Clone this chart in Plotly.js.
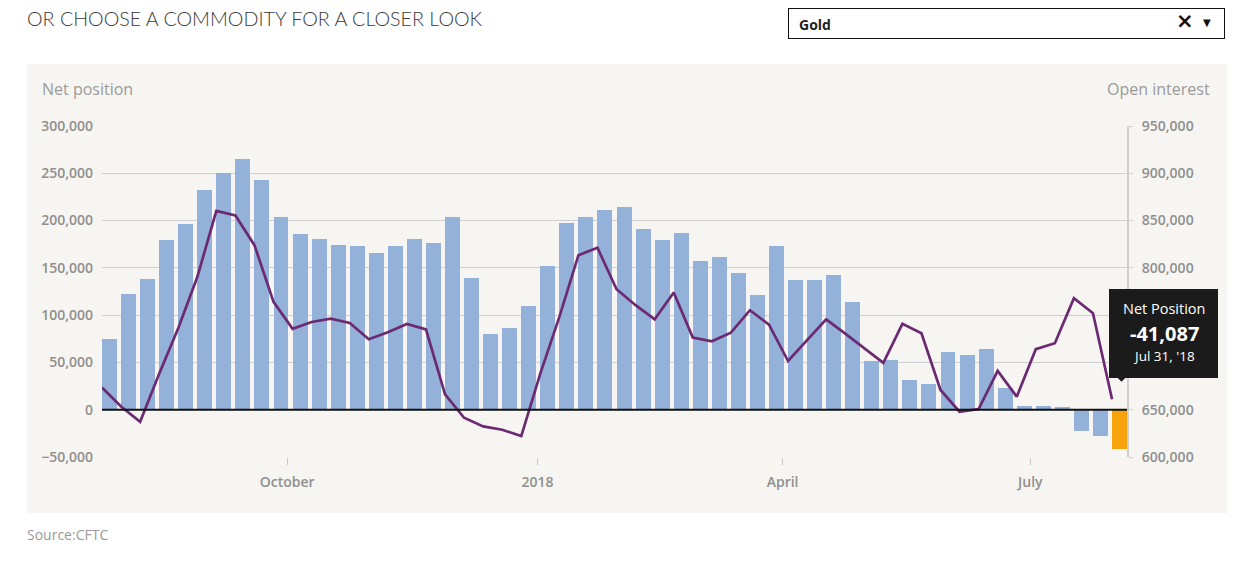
<!DOCTYPE html>
<html>
<head>
<meta charset="utf-8">
<script src="https://cdn.plot.ly/plotly-3.0.1.min.js"></script>
<style>
  html, body { margin: 0; padding: 0; background: #ffffff; width: 1243px; height: 562px; overflow: hidden; }
  #header { position: absolute; left: 27px; top: 7px; font-family: Lato, "Open Sans", sans-serif; font-weight: 300; font-size: 19.7px; color: #3a3a3a; }
  #dropdown { position: absolute; left: 788px; top: 8px; width: 437px; height: 31px; border: 1px solid #111; background: #fff; box-sizing: border-box; font-family: "Open Sans", sans-serif; }
  #dropdown .val { position: absolute; left: 10px; top: 6px; font-size: 14px; font-weight: 700; color: #222; }
  #dropdown .clr { position: absolute; left: 387px; top: 0px; font-size: 21px; font-weight: 700; color: #111; font-family: "DejaVu Sans", sans-serif; }
  #dropdown .arr { position: absolute; left: 414px; top: 8px; font-size: 10px; color: #111; font-family: "DejaVu Sans", sans-serif; }
  #chart { position: absolute; left: 27px; top: 64px; width: 1200px; height: 449px; }
  #source { position: absolute; left: 27px; top: 525px; font-family: "Open Sans", sans-serif; font-size: 14px; color: #9a9a9a; }
</style>
</head>
<body>
<div id="header">OR CHOOSE A COMMODITY FOR A CLOSER LOOK</div>
<div id="dropdown"><span class="val">Gold</span><span class="clr">×</span><span class="arr">▼</span></div>
<div id="chart"></div>
<div id="source">Source:CFTC</div>
<script>
// Weekly report dates (Tuesdays)
var dates = [
  "2017-07-25","2017-08-01","2017-08-08","2017-08-15","2017-08-22","2017-08-29",
  "2017-09-05","2017-09-12","2017-09-19","2017-09-26","2017-10-03","2017-10-10",
  "2017-10-17","2017-10-24","2017-10-31","2017-11-07","2017-11-14","2017-11-21",
  "2017-11-28","2017-12-05","2017-12-12","2017-12-19","2017-12-26","2018-01-02",
  "2018-01-09","2018-01-16","2018-01-23","2018-01-30","2018-02-06","2018-02-13",
  "2018-02-20","2018-02-27","2018-03-06","2018-03-13","2018-03-20","2018-03-27",
  "2018-04-03","2018-04-10","2018-04-17","2018-04-24","2018-05-01","2018-05-08",
  "2018-05-15","2018-05-22","2018-05-29","2018-06-05","2018-06-12","2018-06-19",
  "2018-06-26","2018-07-03","2018-07-10","2018-07-17","2018-07-24","2018-07-31"
];

// Net position (bars, left axis)
var netPosition = [
  74500, 122500, 138300, 179600, 196200, 231900,
  249900, 265000, 242400, 204300, 185300, 180300,
  174700, 172900, 165900, 173300, 180700, 176800,
  204000, 139700, 80100, 86100, 109400, 152100,
  197600, 203600, 211700, 214200, 190900, 179300,
  186700, 157000, 161300, 145000, 121000, 172600,
  137300, 137600, 142900, 113600, 51900, 52200,
  31100, 27200, 61100, 57600, 64300, 23300,
  3900, 3900, 2800, -22600, -27600, -41087
];

// Open interest (line, right axis)
var openInterest = [
  673400, 653400, 637300, 688000, 736100, 790300,
  860300, 855400, 824000, 764100, 735600, 742800,
  746300, 741800, 724500, 731900, 740700, 735000,
  666200, 641500, 632400, 628800, 622100, 688100,
  748100, 813400, 821200, 777400, 760500, 745600,
  773900, 726200, 722300, 731500, 755200, 740000,
  701500, 723400, 745600, 730500, 715200, 699600,
  740800, 730900, 670900, 647900, 650700, 691000,
  663800, 714000, 720300, 768000, 752100, 661000
];

// X tick positions and labels
var xTickVals = ["2017-10-01", "2018-01-01", "2018-04-01", "2018-07-01"];
var xTickText = ["October", "2018", "April", "July"];
// Right-axis labels visible in the reference (700,000 and 750,000 sit under the tooltip)
var rightTickVals = [600000, 650000, 800000, 850000, 900000, 950000];

var DAY = 86400000;
var barColor = "#94b1da";
var hiColor = "#f7a30b";
var tipColor = "#1b1b1b";
var colors = netPosition.map(function (v, i) { return i === netPosition.length - 1 ? hiColor : barColor; });

var tickFont = { family: "Open Sans, sans-serif", size: 14, color: "#8f8f8f", weight: 600 };

var barTrace = {
  type: "bar",
  x: dates,
  y: netPosition,
  marker: { color: colors, line: { width: 0 } },
  offset: 0,
  width: 5.5 * DAY,
  name: "Net position",
  hoverinfo: "skip",
  yaxis: "y"
};

var lineTrace = {
  type: "scatter",
  mode: "lines",
  x: dates,
  y: openInterest,
  line: { color: "#6b2a72", width: 2.7 },
  name: "Open interest",
  hoverinfo: "skip",
  yaxis: "y2"
};

var lastIdx = dates.length - 1;
var months = ["Jan","Feb","Mar","Apr","May","Jun","Jul","Aug","Sep","Oct","Nov","Dec"];
var lp = dates[lastIdx].split("-");
var lastLabel = months[parseInt(lp[1], 10) - 1] + " " + parseInt(lp[2], 10) + ", '" + lp[0].slice(2);
var lastVal = netPosition[lastIdx].toLocaleString("en-US");

function tipText(txt, size, dy, bold) {
  return {
    xref: "x", yref: "y", x: dates[lastIdx], y: 0,
    xanchor: "center", yanchor: "middle",
    xshift: 52, yshift: dy,
    text: bold ? "<b>" + txt + "</b>" : txt,
    showarrow: false,
    borderpad: 0,
    font: { family: "Open Sans, sans-serif", size: size, color: "#ffffff" }
  };
}

var layout = {
  width: 1200,
  height: 449,
  margin: { l: 75, r: 100, t: 62, b: 56 },
  paper_bgcolor: "#f6f5f1",
  plot_bgcolor: "#f6f5f1",
  showlegend: false,
  bargap: 0,
  xaxis: {
    type: "date",
    range: ["2017-07-25", "2018-08-05 12:00"],
    tickmode: "array",
    tickvals: xTickVals,
    ticktext: xTickText,
    ticks: "outside",
    ticklen: 7,
    tickwidth: 1,
    tickcolor: "#c8c8c8",
    showgrid: false,
    showline: false,
    zeroline: false,
    tickfont: tickFont,
    ticklabelstandoff: 5
  },
  yaxis: {
    range: [-50000, 300000],
    dtick: 50000,
    tick0: 0,
    tickformat: ",",
    showgrid: true,
    gridcolor: "#cfcfcf",
    gridwidth: 1,
    zeroline: false,
    showline: false,
    ticks: "",
    tickfont: tickFont,
    ticklabelstandoff: 8
  },
  yaxis2: {
    overlaying: "y",
    side: "right",
    range: [600000, 950000],
    tickmode: "array",
    tickvals: rightTickVals,
    tickformat: ",",
    showgrid: false,
    zeroline: false,
    showline: true,
    linecolor: "#cfcfcf",
    linewidth: 2,
    ticks: "outside",
    ticklen: 4,
    tickcolor: "#cfcfcf",
    tickfont: tickFont,
    ticklabelstandoff: 6
  },
  shapes: [
    {
      type: "line", layer: "above",
      xref: "paper", x0: 0, x1: 1,
      yref: "y", y0: 0, y1: 0,
      line: { color: "#111111", width: 2 }
    },
    {
      type: "path", layer: "above",
      xref: "x", xsizemode: "pixel", xanchor: dates[lastIdx],
      yref: "y", ysizemode: "pixel", yanchor: 0,
      path: "M 3.5,34 L 15.5,34 L 9.5,28 Z",
      fillcolor: tipColor, line: { width: 0 }
    }
  ],
  annotations: [
    {
      xref: "paper", yref: "paper", x: 0, y: 1,
      xanchor: "left", yanchor: "middle",
      xshift: -62, yshift: 37,
      text: "Net position", showarrow: false,
      font: { family: "Open Sans, sans-serif", size: 16, color: "#9a9a9a" }
    },
    {
      xref: "paper", yref: "paper", x: 1, y: 1,
      xanchor: "right", yanchor: "middle",
      xshift: 85, yshift: 37,
      text: "Open interest", showarrow: false,
      font: { family: "Open Sans, sans-serif", size: 16, color: "#9a9a9a" }
    },
    {
      xref: "x", yref: "y", x: dates[lastIdx], y: 0,
      xanchor: "center", yanchor: "middle",
      xshift: 51.5, yshift: 76.5,
      width: 105, height: 85,
      text: " ", showarrow: false,
      bgcolor: tipColor, bordercolor: tipColor, borderpad: 2, borderwidth: 0
    },
    tipText("Net Position", 14.5, 101, false),
    tipText(lastVal, 20, 76.5, true),
    tipText(lastLabel, 13.5, 53.5, false)
  ]
};

Plotly.newPlot("chart", [barTrace, lineTrace], layout, { displayModeBar: false, staticPlot: true });
</script>
</body>
</html>
